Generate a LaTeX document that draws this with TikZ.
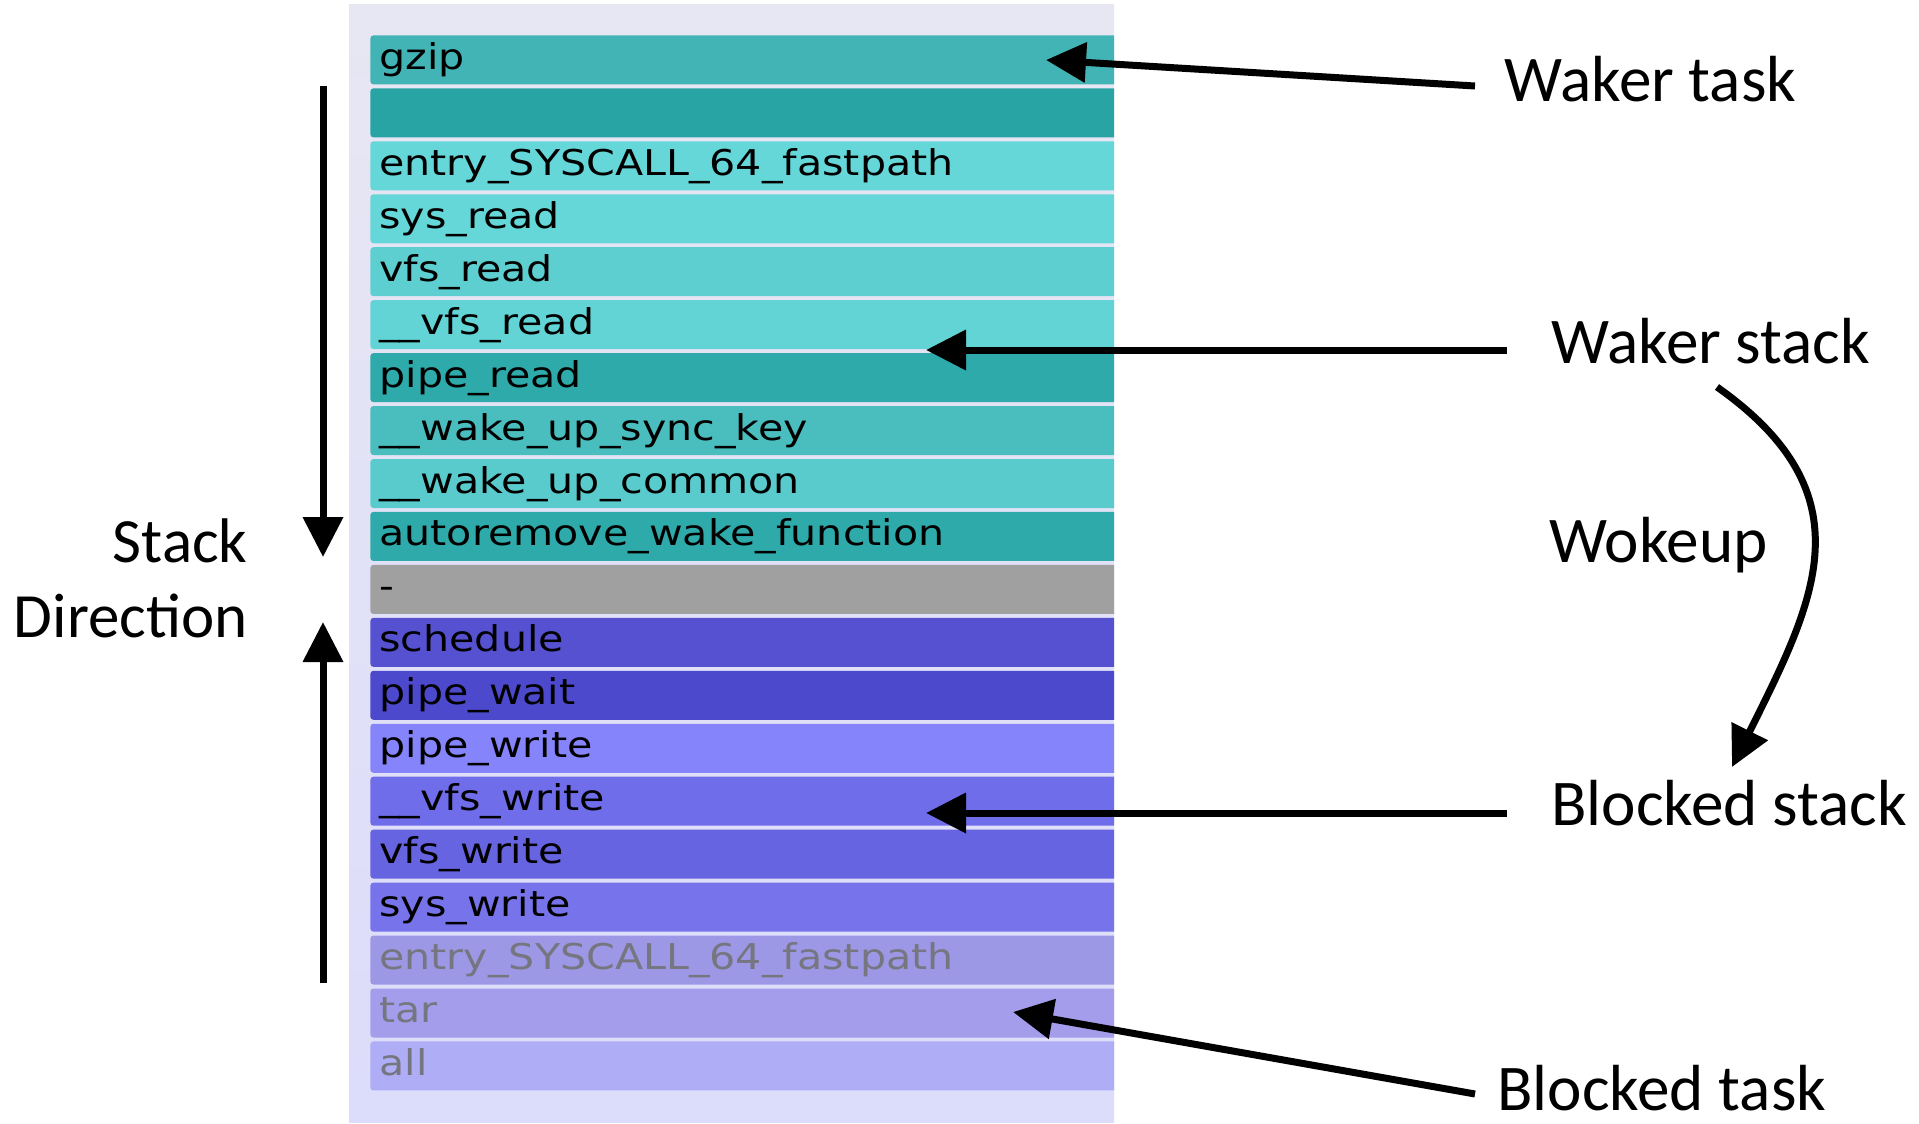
\documentclass[tikz,border=0pt]{standalone}
\usepackage{fontspec}
\setmainfont{Carlito}
\newfontfamily\flamefont{DejaVu Sans}[FakeStretch=1.16]
\usetikzlibrary{arrows.meta}
\definecolor{c0}{HTML}{42B4B5}
\definecolor{c1}{HTML}{29A4A4}
\definecolor{c2}{HTML}{66D7D9}
\definecolor{c3}{HTML}{66D7D9}
\definecolor{c4}{HTML}{5ECFD1}
\definecolor{c5}{HTML}{63D4D6}
\definecolor{c6}{HTML}{2EAAAA}
\definecolor{c7}{HTML}{4ABDBE}
\definecolor{c8}{HTML}{5ACBCD}
\definecolor{c9}{HTML}{2EAAAA}
\definecolor{c10}{HTML}{A0A0A0}
\definecolor{c11}{HTML}{5551D1}
\definecolor{c12}{HTML}{4C49CD}
\definecolor{c13}{HTML}{8584FA}
\definecolor{c14}{HTML}{6F6DE9}
\definecolor{c15}{HTML}{6664E1}
\definecolor{c16}{HTML}{7774EB}
\definecolor{c17}{HTML}{9D98E6}
\definecolor{c18}{HTML}{A39DEB}
\definecolor{c19}{HTML}{AEADF6}
\definecolor{paneltop}{RGB}{231,231,243}
\definecolor{panelbot}{RGB}{220,220,251}
\definecolor{dimtext}{RGB}{118,118,128}
\begin{document}
\begin{tikzpicture}[x=0.5pt,y=-0.5pt,
  bar/.style={draw=none, rounded corners=1.5pt, anchor=north west,
    inner xsep=4.5pt, inner ysep=0pt, text width=368pt, align=left,
    text height=17pt, text depth=7.5pt,
    font=\flamefont\fontsize{17.75pt}{20pt}\selectfont},
  lbl/.style={inner sep=0pt, font=\fontsize{32.6pt}{37.5pt}\selectfont},
  sdlbl/.style={inner sep=0pt, font=\fontsize{31.5pt}{37.5pt}\selectfont},
  arr/.style={line width=3.5pt, -{Triangle[length=20pt,width=19.5pt]}}]
\useasboundingbox (0,0) rectangle (1919,1124);
\fill[white] (0,0) rectangle (1919,1124);
\shade[top color=paneltop, bottom color=panelbot] (349,4) rectangle (1114,1122);
\begin{scope}
\clip (349,0) rectangle (1114,1124);
\foreach \i/\tc/\t in {0/black/gzip, 1/black/{}, 2/black/entry\_SYSCALL\_64\_fastpath,
  3/black/sys\_read, 4/black/vfs\_read, 5/black/\_\_vfs\_read, 6/black/pipe\_read,
  7/black/\_\_wake\_up\_sync\_key, 8/black/\_\_wake\_up\_common,
  9/black/autoremove\_wake\_function, 10/black/-, 11/black/schedule,
  12/black/pipe\_wait, 13/black/pipe\_write, 14/black/\_\_vfs\_write,
  15/black/vfs\_write, 16/black/sys\_write, 17/dimtext/entry\_SYSCALL\_64\_fastpath,
  18/dimtext/tar, 19/dimtext/all}
  \node[bar, fill=c\i, text=\tc] (r\i) at (370,{35+52.95*\i}) {\t};
\end{scope}
% labels
\node[lbl, anchor=base west] (wtask) at (1504,101) {Waker task};
\node[lbl, anchor=base west] (wstack) at (1551,363) {Waker stack};
\node[lbl, anchor=base west] (wokeup) at (1549,562) {Wokeup};
\node[lbl, anchor=base west] (bstack) at (1551,825) {Blocked stack};
\node[lbl, anchor=base west] (btask) at (1497,1110) {Blocked task};
\node[sdlbl, anchor=base east] (stack) at (248,562) {Stack};
\node[sdlbl, anchor=base east] (dir) at (248,637) {Direction};
% connector coordinates
\coordinate (wtS) at (1475,86);
\coordinate (wtE) at (1046,60);
\coordinate (wsS) at (1507,350);
\coordinate (wsE) at (926,350);
\coordinate (bsS) at (1507,813);
\coordinate (bsE) at (926,813);
\coordinate (btS) at (1475,1094);
\coordinate (btE) at (1013,1012);
\coordinate (wkS) at (1717,387);
\coordinate (wkE) at (1732,767);
\coordinate (sdA) at (323,86);
\coordinate (sdB) at (323,557);
\coordinate (suA) at (323,983);
\coordinate (suB) at (323,622);
\draw[arr] (wtS) -- (wtE);
\draw[arr] (wsS) -- (wsE);
\draw[arr] (bsS) -- (bsE);
\draw[arr] (btS) -- (btE);
\draw[arr] (wkS) .. controls (1870,495) and (1815,600) .. (wkE);
\draw[arr] (sdA) -- (sdB);
\draw[arr] (suA) -- (suB);
\end{tikzpicture}
\end{document}
